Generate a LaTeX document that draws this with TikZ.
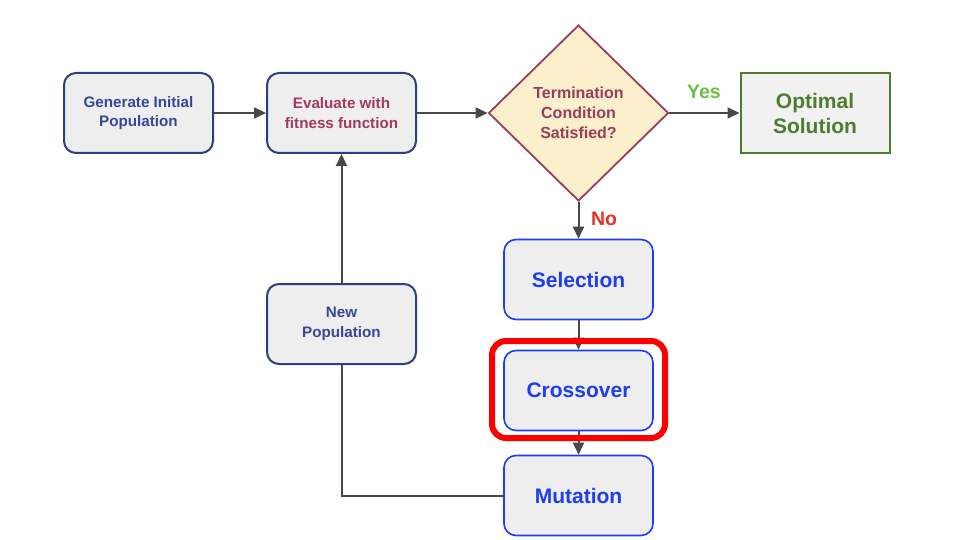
\documentclass[tikz,border=0pt]{standalone}
\usepackage{fontspec}
\setmainfont{Liberation Sans}
\usetikzlibrary{shapes.geometric,arrows.meta}
\definecolor{navyborder}{HTML}{2F3E80}
\definecolor{navytext}{HTML}{37479A}
\definecolor{maroontext}{HTML}{A33A5C}
\definecolor{diaborder}{HTML}{9A3D5C}
\definecolor{diafill}{HTML}{FCEFCB}
\definecolor{boxfill}{HTML}{EEEEEE}
\definecolor{optgreen}{HTML}{4E7D30}
\definecolor{optfill}{HTML}{F1F1F1}
\definecolor{yesgreen}{HTML}{6CBF40}
\definecolor{nored}{HTML}{E8302A}
\definecolor{bluebox}{HTML}{1A3CFF}
\definecolor{bluetext}{HTML}{1E3CF0}
\definecolor{connc}{HTML}{484848}
\definecolor{framered}{HTML}{FF0000}
\tikzset{
  smallfont/.style={font=\bfseries\fontsize{15.2}{19.5}\selectfont},
  bigfont/.style={font=\bfseries\fontsize{21}{25}\selectfont},
  navybox/.style={draw=navyborder, line width=2pt, fill=boxfill, rounded corners=12pt,
     minimum width=149pt, minimum height=80pt, align=center, inner sep=0pt, smallfont},
  bluestep/.style={draw=bluebox, line width=1.6pt, fill=boxfill, rounded corners=12pt,
     minimum width=149pt, minimum height=80pt, align=center, inner sep=0pt, bigfont, text=bluetext},
  decision/.style={diamond, draw=diaborder, line width=1.8pt, fill=diafill, aspect=1.02,
     minimum width=180pt, minimum height=176pt, inner sep=0pt, align=center,
     font=\bfseries\fontsize{16}{20}\selectfont, text=diaborder},
  optbox/.style={draw=optgreen, line width=2pt, fill=optfill, minimum width=149pt,
     minimum height=80pt, align=center, inner sep=0pt, bigfont, text=optgreen},
  conn/.style={draw=connc, line width=2pt},
  arr/.style={conn, -{Triangle[length=12pt,width=11pt]}},
  lbl/.style={font=\bfseries\fontsize{19.5}{22}\selectfont},
  redframe/.style={draw=framered, line width=6pt, rounded corners=14pt,
     minimum width=173pt, minimum height=97pt, inner sep=0pt, outer sep=0pt}
}
\begin{document}
\begin{tikzpicture}[x=1pt,y=-1pt]
\useasboundingbox[fill=white] (0,0) rectangle (960,540);
\node[navybox, text=navytext] (gen) at (138.5,113) {Generate Initial\\Population};
\node[navybox, text=maroontext] (eval) at (341.5,113) {Evaluate with\\fitness function};
\node[decision] (term) at (578.5,113) {Termination\\Condition\\Satisfied?};
\node[optbox] (opt) at (815,113) {Optimal\\Solution};
\node[bluestep] (sel) at (578.5,279.5) {Selection};
\node[bluestep] (cross) at (578.5,390.5) {Crossover};
\node[bluestep] (mut) at (578.5,495.5) {Mutation};
\node[navybox, text=navytext] (newpop) at (341.5,324) {New\\Population};

\draw[arr] (gen.east) -- (eval.west);
\draw[arr] (eval.east) -- (term.west);
\draw[arr] (term.east) -- (opt.west);
\draw[arr] (term.south) -- (sel.north);
\node[lbl, text=yesgreen] (yes) at (704,92) {Yes};
\node[lbl, text=nored] (no) at (604,219) {No};
\draw[arr] (sel.south) -- (cross.north);
\draw[arr] (cross.south) -- (mut.north);
\draw[conn] (mut.west) -| (newpop.south);
\draw[arr] (newpop.north) -- (eval.south);

\node[redframe] (highlight) at (578.5,389.5) {};
\end{tikzpicture}
\end{document}
